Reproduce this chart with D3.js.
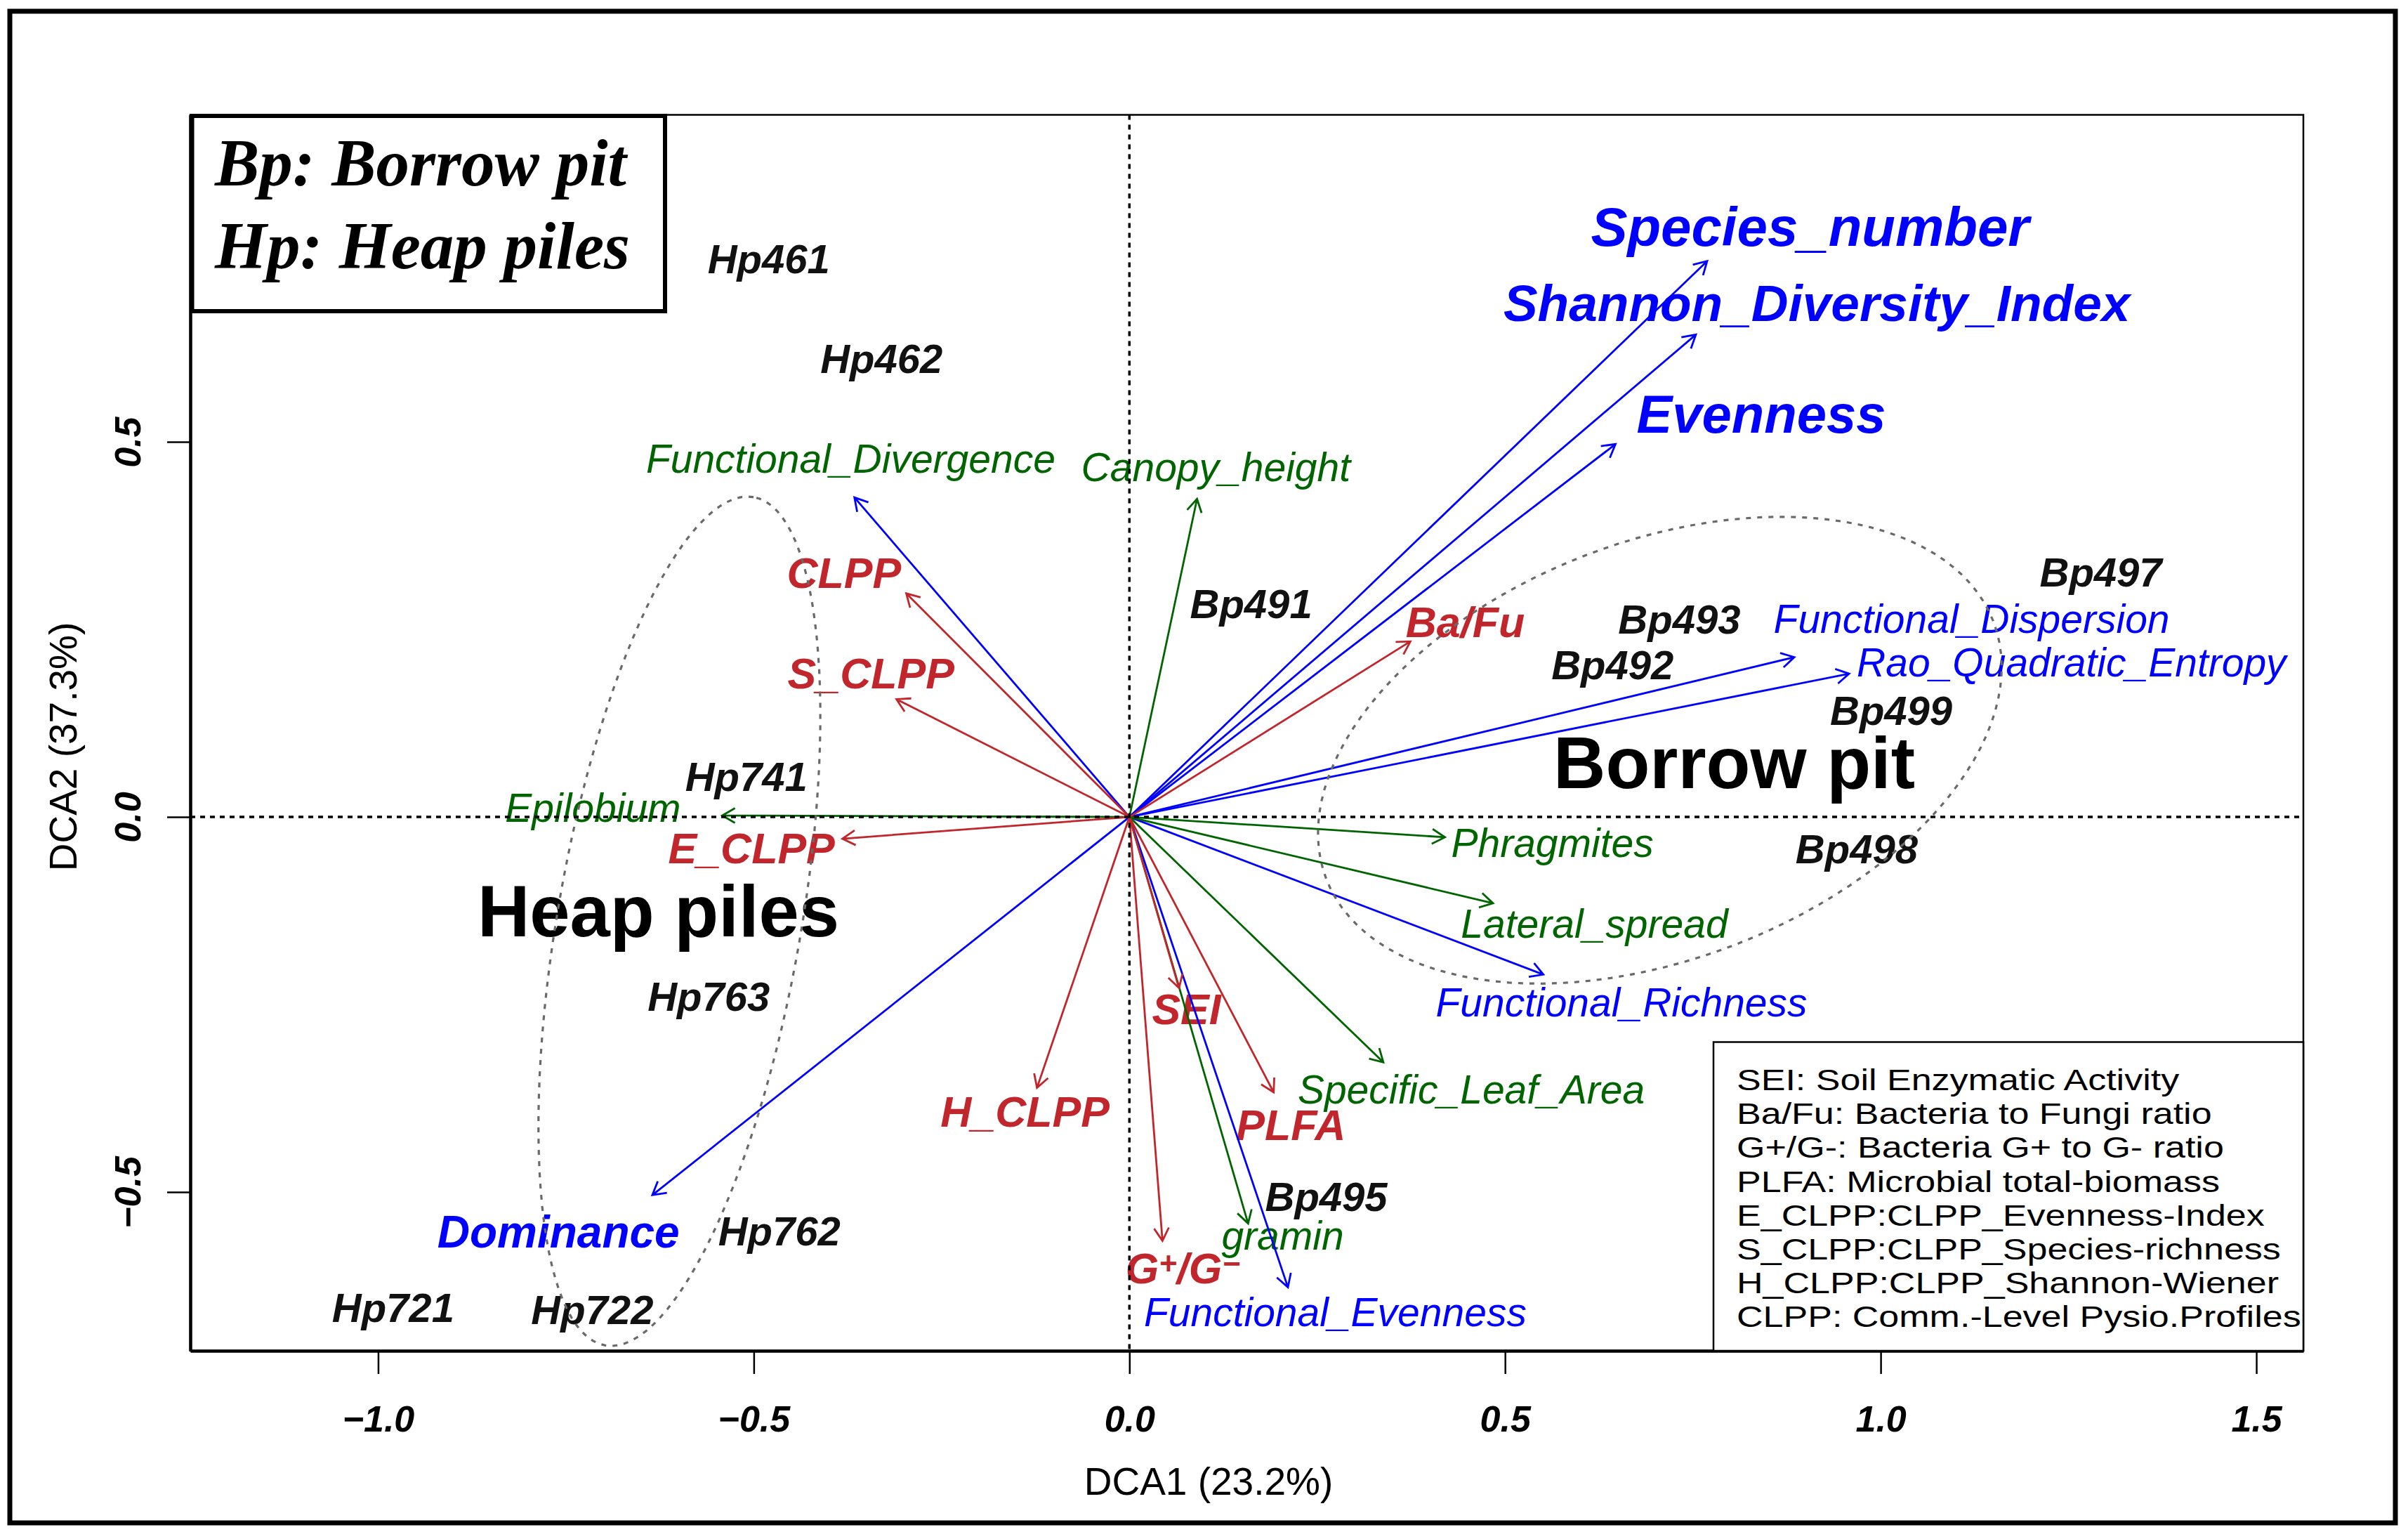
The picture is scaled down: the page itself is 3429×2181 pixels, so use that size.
<!DOCTYPE html>
<html>
<head>
<meta charset="utf-8">
<script src="https://cdnjs.cloudflare.com/ajax/libs/d3/7.8.5/d3.min.js"></script>
<style>
  body { margin: 0; background: #fff; }
</style>
</head>
<body>
<script>
// DCA biplot: sample scores, fitted vectors and group ellipses

var width = 3429;
var height = 2181;

// sample scores (label centres)
var sampleNames = ['Hp461', 'Hp462', 'Bp491', 'Bp493', 'Bp492', 'Bp497', 'Bp499',
                   'Bp498', 'Hp741', 'Hp763', 'Hp762', 'Hp721', 'Hp722', 'Bp495'];
var sampleX = [-0.480, -0.330, 0.162, 0.732, 0.643, 1.293, 1.014,
               0.968, -0.510, -0.560, -0.466, -0.980, -0.715, 0.262];
var sampleY = [0.744, 0.611, 0.285, 0.264, 0.203, 0.327, 0.142,
               -0.042, 0.054, -0.239, -0.552, -0.654, -0.656, -0.506];

// fitted vectors: arrow tips and label positions
var vecNames = ['Species_number', 'Shannon_Diversity_Index', 'Evenness', 'Functional_Dispersion',
                'Rao_Quadratic_Entropy', 'Functional_Divergence', 'Dominance', 'Functional_Richness',
                'Functional_Evenness',
                'Canopy_height', 'Epilobium', 'Phragmites', 'Lateral_spread', 'Specific_Leaf_Area', 'gramin',
                'CLPP', 'S_CLPP', 'Ba/Fu', 'E_CLPP', 'H_CLPP', 'G+/G-', 'SEI', 'PLFA'];
var vecGroup = ['div', 'div', 'div', 'div', 'div', 'div', 'div', 'div', 'div',
                'plant', 'plant', 'plant', 'plant', 'plant', 'plant',
                'soil', 'soil', 'soil', 'soil', 'soil', 'soil', 'soil', 'soil'];
var vecX = [0.769, 0.754, 0.647, 0.885, 0.958, -0.366, -0.635, 0.551, 0.211,
            0.090, -0.542, 0.420, 0.484, 0.338, 0.158,
            -0.297, -0.310, 0.374, -0.382, -0.123, 0.044, 0.066, 0.192];
var vecY = [0.741, 0.643, 0.497, 0.213, 0.191, 0.426, -0.504, -0.210, -0.627,
            0.424, 0.002, -0.027, -0.115, -0.327, -0.542,
            0.298, 0.157, 0.234, -0.029, -0.361, -0.565, -0.228, -0.367];
var labX = [0.906, 0.915, 0.841, 1.121, 1.254, -0.371, -0.760, 0.655, 0.274,
            0.115, -0.714, 0.563, 0.619, 0.455, 0.204,
            -0.380, -0.344, 0.447, -0.503, -0.139, 0.071, 0.076, 0.215];
var labY = [0.788, 0.686, 0.538, 0.265, 0.207, 0.478, -0.552, -0.247, -0.660,
            0.467, 0.013, -0.034, -0.142, -0.363, -0.558,
            0.326, 0.192, 0.260, -0.041, -0.392, -0.601, -0.256, -0.410];

// group ellipses (centre, semi-axes, rotation in degrees)
var ellNames = ['Heap piles', 'Borrow pit'];
var ellCx = [-0.599, 0.706];
var ellCy = [-0.139, 0.089];
var ellA = [0.574, 0.476];
var ellB = [0.162, 0.278];
var ellAngle = [80.1, 21.2];
var ellLabX = [-0.627, 0.805];
var ellLabY = [-0.124, 0.073];

var xTicks = [-1.0, -0.5, 0.0, 0.5, 1.0, 1.5];
var yTicks = [-0.5, 0.0, 0.5];

var keyLines = ['Bp: Borrow pit', 'Hp: Heap piles'];
var legendLines = ['SEI: Soil Enzymatic Activity',
                   'Ba/Fu: Bacteria to Fungi ratio',
                   'G+/G-: Bacteria G+ to G- ratio',
                   'PLFA: Microbial total-biomass',
                   'E_CLPP:CLPP_Evenness-Index',
                   'S_CLPP:CLPP_Species-richness',
                   'H_CLPP:CLPP_Shannon-Wiener',
                   'CLPP: Comm.-Level Pysio.Profiles'];

// ---- styles
var sans = "'Liberation Sans', Arial, Helvetica, sans-serif";
var serif = "'Liberation Serif', 'Times New Roman', serif";
var groupColor = { div: '#0000ff', plant: '#006400', soil: '#c0262b' };
var bigSize = { 'Species_number': 78, 'Shannon_Diversity_Index': 73, 'Evenness': 76, 'Dominance': 64 };
var labColorOverride = { 'Functional_Divergence': '#006400' };

var pLeft = 271, pRight = 3280, pTop = 163.5, pBottom = 1923;

var x = d3.scaleLinear().domain([-1.25, 1.5626]).range([pLeft, pRight]);
var y = d3.scaleLinear().domain([-0.7116, 0.936]).range([pBottom, pTop]);

var svg = d3.select('body').append('svg')
    .attr('width', width)
    .attr('height', height);

// outer frame
svg.append('rect')
    .attr('x', 14).attr('y', 16)
    .attr('width', 3397).attr('height', 2152)
    .attr('fill', 'none').attr('stroke', '#000').attr('stroke-width', 7);

var plot = svg.append('g');

// ---- labels of vectors
var vecs = vecNames.map(function (n, i) {
  return { name: n, group: vecGroup[i], x: vecX[i], y: vecY[i], lx: labX[i], ly: labY[i] };
});

vecs.forEach(function (d) {
  var t = plot.append('text')
      .attr('x', x(d.lx))
      .attr('y', y(d.ly))
      .attr('dy', '0.36em')
      .attr('text-anchor', 'middle')
      .attr('font-family', sans)
      .attr('font-style', 'italic')
      .attr('fill', labColorOverride[d.name] || groupColor[d.group]);

  if (d.group == 'soil') {
    t.attr('font-weight', 'bold').attr('font-size', 61);
  } else if (bigSize[d.name]) {
    t.attr('font-weight', 'bold').attr('font-size', bigSize[d.name]);
  } else {
    t.attr('font-size', 57);
  }

  if (d.name == 'G+/G-') {
    t.append('tspan').text('G');
    t.append('tspan').attr('dy', '-0.3em').attr('font-size', '0.72em').text('+');
    t.append('tspan').attr('dy', '0.216em').text('/G');
    t.append('tspan').attr('dy', '-0.3em').attr('font-size', '0.72em').text('\u2212');
  } else {
    t.text(d.name);
  }
});

// ---- sample labels
plot.selectAll('.site')
    .data(sampleNames)
  .enter().append('text')
    .attr('class', 'site')
    .attr('x', function (d, i) { return x(sampleX[i]); })
    .attr('y', function (d, i) { return y(sampleY[i]); })
    .attr('dy', '0.36em')
    .attr('text-anchor', 'middle')
    .attr('font-family', sans)
    .attr('font-weight', 'bold')
    .attr('font-style', 'italic')
    .attr('font-size', 58)
    .attr('fill', '#111')
    .text(function (d) { return d; });

// ---- group names
plot.selectAll('.grp')
    .data(ellNames)
  .enter().append('text')
    .attr('class', 'grp')
    .attr('x', function (d, i) { return x(ellLabX[i]); })
    .attr('y', function (d, i) { return y(ellLabY[i]); })
    .attr('dy', '0.36em')
    .attr('text-anchor', 'middle')
    .attr('font-family', sans)
    .attr('font-weight', 'bold')
    .attr('font-size', 103)
    .attr('fill', '#000')
    .text(function (d) { return d; });

// ---- arrows
var x0 = x(0), y0 = y(0);
var headLen = 21, headAng = Math.PI / 6;

vecs.forEach(function (d) {
  var tx = x(d.x), ty = y(d.y);
  var ang = Math.atan2(ty - y0, tx - x0);
  var h1x = tx - headLen * Math.cos(ang - headAng), h1y = ty - headLen * Math.sin(ang - headAng);
  var h2x = tx - headLen * Math.cos(ang + headAng), h2y = ty - headLen * Math.sin(ang + headAng);
  plot.append('path')
      .attr('d', 'M' + x0 + ',' + y0 + 'L' + tx + ',' + ty +
                 'M' + h1x + ',' + h1y + 'L' + tx + ',' + ty + 'L' + h2x + ',' + h2y)
      .attr('fill', 'none')
      .attr('stroke', groupColor[d.group])
      .attr('stroke-width', 2.8)
      .attr('stroke-linejoin', 'miter');
});

// ---- ellipses
var ellLine = d3.line()
    .x(function (p) { return x(p[0]); })
    .y(function (p) { return y(p[1]); })
    .curve(d3.curveLinearClosed);

ellNames.forEach(function (n, i) {
  var th = ellAngle[i] * Math.PI / 180;
  var pts = d3.range(0, 120).map(function (k) {
    var t = k / 120 * 2 * Math.PI;
    var ex = ellA[i] * Math.cos(t), ey = ellB[i] * Math.sin(t);
    return [ellCx[i] + ex * Math.cos(th) - ey * Math.sin(th),
            ellCy[i] + ex * Math.sin(th) + ey * Math.cos(th)];
  });
  plot.append('path')
      .attr('d', ellLine(pts))
      .attr('fill', 'none')
      .attr('stroke', '#6a6a6a')
      .attr('stroke-width', 3.2)
      .attr('stroke-dasharray', '7,9');
});

// ---- zero lines
plot.append('line')
    .attr('x1', x(0)).attr('x2', x(0)).attr('y1', pTop).attr('y2', pBottom)
    .attr('stroke', '#000').attr('stroke-width', 3.5).attr('stroke-dasharray', '7,7');
plot.append('line')
    .attr('x1', pLeft).attr('x2', pRight).attr('y1', y(0)).attr('y2', y(0))
    .attr('stroke', '#000').attr('stroke-width', 3.5).attr('stroke-dasharray', '7,7');

// ---- plot box
svg.append('rect')
    .attr('x', pLeft).attr('y', pTop)
    .attr('width', pRight - pLeft).attr('height', pBottom - pTop)
    .attr('fill', 'none').attr('stroke', '#000').attr('stroke-width', 2.5);

// ---- axes
var xAxis = d3.axisBottom(x)
    .tickValues(xTicks)
    .tickSize(33)
    .tickSizeOuter(0)
    .tickPadding(45)
    .tickFormat(d3.format('.1f'));

var gx = svg.append('g')
    .attr('transform', 'translate(0,' + pBottom + ')')
    .call(xAxis);

var yAxis = d3.axisLeft(y)
    .tickValues(yTicks)
    .tickSize(33)
    .tickSizeOuter(0)
    .tickFormat(d3.format('.1f'));

var gy = svg.append('g')
    .attr('transform', 'translate(' + pLeft + ',0)')
    .call(yAxis);

[gx, gy].forEach(function (g) {
  g.select('.domain').attr('stroke-width', 4.5);
  g.selectAll('.tick line').attr('stroke-width', 2.5);
  g.selectAll('.tick text')
      .attr('font-family', sans)
      .attr('font-weight', 'bold')
      .attr('font-style', 'italic')
      .attr('font-size', 52)
      .attr('fill', '#000');
});

gy.selectAll('.tick text')
    .attr('x', 0)
    .attr('y', -71)
    .attr('dy', null)
    .attr('text-anchor', 'middle')
    .attr('transform', 'rotate(-90)');

// axis titles
svg.append('text')
    .attr('x', 1721).attr('y', 2128)
    .attr('text-anchor', 'middle')
    .attr('font-family', sans)
    .attr('font-size', 55)
    .text('DCA1 (23.2%)');

svg.append('text')
    .attr('transform', 'translate(109,1063) rotate(-90)')
    .attr('text-anchor', 'middle')
    .attr('font-family', sans)
    .attr('font-size', 55)
    .text('DCA2 (37.3%)');

// ---- key box (top left)
svg.append('rect')
    .attr('x', 273.5).attr('y', 165)
    .attr('width', 673.5).attr('height', 278)
    .attr('fill', '#fff').attr('stroke', '#000').attr('stroke-width', 6);

svg.selectAll('.key')
    .data(keyLines)
  .enter().append('text')
    .attr('class', 'key')
    .attr('x', 306)
    .attr('y', function (d, i) { return 264 + i * 118; })
    .attr('font-family', serif)
    .attr('font-weight', 'bold')
    .attr('font-style', 'italic')
    .attr('font-size', 95)
    .text(function (d) { return d; });

// ---- abbreviations legend (bottom right)
svg.append('rect')
    .attr('x', 2440).attr('y', 1483.5)
    .attr('width', pRight - 2440).attr('height', pBottom - 1483.5)
    .attr('fill', '#fff').attr('stroke', '#000').attr('stroke-width', 2.5);

var leg = svg.append('g')
    .attr('transform', 'translate(2473,0) scale(1.21,1)');

leg.selectAll('text')
    .data(legendLines)
  .enter().append('text')
    .attr('x', 0)
    .attr('y', function (d, i) { return 1552 + i * 48.2; })
    .attr('font-family', sans)
    .attr('font-size', 43)
    .attr('fill', '#000')
    .text(function (d) { return d; });

</script>
</body>
</html>
